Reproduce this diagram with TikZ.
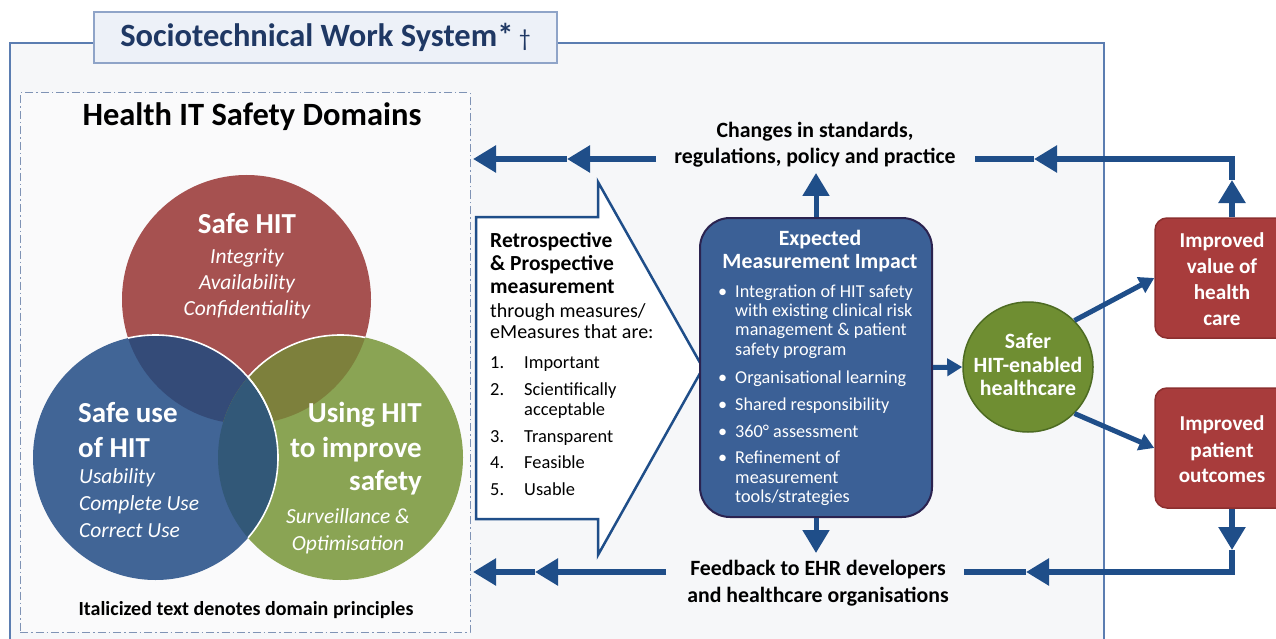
\documentclass[tikz,border=0pt]{standalone}
\usepackage{fontspec}
\setmainfont{Carlito}
\usetikzlibrary{arrows.meta,calc}
\definecolor{navy}{HTML}{1F4E89}
\definecolor{titleblue}{HTML}{1F3864}
\definecolor{framec}{HTML}{5B7DB1}
\definecolor{bgc}{HTML}{F6F7F9}
\definecolor{titlefill}{HTML}{EDF1F8}
\definecolor{titledraw}{HTML}{8FA4C8}
\definecolor{domc}{HTML}{7F93B5}
\definecolor{vred}{HTML}{A65150}
\definecolor{vblue}{HTML}{416596}
\definecolor{vgreen}{HTML}{8AA454}
\definecolor{vrb}{HTML}{344B78}
\definecolor{vrg}{HTML}{7D803C}
\definecolor{vbg}{HTML}{325878}
\definecolor{emi}{HTML}{3B6096}
\definecolor{emib}{HTML}{2B2350}
\definecolor{sgreen}{HTML}{6F8E32}
\definecolor{sgreenb}{HTML}{4D6B22}
\definecolor{ired}{HTML}{A83C3C}
\definecolor{iredb}{HTML}{8C2F2F}
\newcommand\myfs[1]{\fontsize{#1}{#1}\selectfont}
\begin{document}
\begin{tikzpicture}[x=1pt,y=-1pt,
  line/.style={draw=navy,line width=5.5pt},
  bigtip/.style={-{Triangle[length=23pt,width=26pt]}},
  smalltip/.style={-{Triangle[length=15pt,width=17pt]}},
  txt/.style={inner sep=0pt,anchor=base},
  txtw/.style={inner sep=0pt,anchor=base west},
  txte/.style={inner sep=0pt,anchor=base east},
  vhead/.style={font=\bfseries\myfs{29},text=white},
  vprin/.style={font=\itshape\myfs{21.5},text=white},
  ctext/.style={font=\bfseries\myfs{21.8},text=black},
  wtext/.style={font=\bfseries\myfs{21.8},text=white},
  rtext/.style={font=\bfseries\myfs{21.2},text=white},
  btext/.style={font=\myfs{18.2},text=white},
  ltext/.style={font=\myfs{18.4},text=black},
  redbox/.style={rectangle,rounded corners=12pt,fill=ired,draw=iredb,line width=1.5pt,minimum width=135pt,minimum height=120pt,inner sep=0pt}
]
\useasboundingbox (0,0) rectangle (1276,639);
\fill[white] (0,0) rectangle (1276,639);
% outer frame
\fill[bgc] (10,43) rectangle (1104,650);
\draw[framec,line width=1.5pt] (94,43) -- (10,43) -- (10,650);
\draw[framec,line width=1.5pt] (557,43) -- (1104,43) -- (1104,650);
\node[rectangle,fill=titlefill,draw=titledraw,line width=1.2pt,minimum width=463pt,minimum height=51pt,inner sep=0pt,
  font=\bfseries\myfs{32.5},text=titleblue] (ttl) at (325.5,37.5) {Sociotechnical Work System*\,{\mdseries\myfs{24}†}};
% domain box
\node[rectangle,draw=domc,line width=1pt,dash pattern=on 8pt off 3pt on 1.5pt off 3pt,
  fill=white!40!bgc,minimum width=450pt,minimum height=539pt,inner sep=0pt] (dom) at (245,362.5) {};
\node[txt,font=\bfseries\myfs{32.5}] (dtitle) at (252,126) {Health IT Safety Domains};
% venn
\fill[vred] (246.5,299.5) circle (124.5);
\fill[vgreen] (340.5,457.5) circle (122.5);
\fill[vblue] (155.5,457.5) circle (122.5);
\begin{scope}
  \clip (246.5,299.5) circle (124.5);
  \fill[vrb] (155.5,457.5) circle (122.5);
  \fill[vrg] (340.5,457.5) circle (122.5);
\end{scope}
\begin{scope}
  \clip (155.5,457.5) circle (122.5);
  \fill[vbg] (340.5,457.5) circle (122.5);
\end{scope}
\begin{scope}
  \clip (246.5,299.5) circle (124.5);
  \draw[white,line width=1.6pt] (155.5,457.5) circle (122.5);
  \begin{scope}[even odd rule]
    \clip (155.5,457.5) circle (122.5) (0,0) rectangle (600,700);
    \draw[white,line width=1.6pt] (340.5,457.5) circle (122.5);
  \end{scope}
\end{scope}
\begin{scope}
  \clip (340.5,457.5) circle (122.5);
  \draw[white,line width=1.6pt] (155.5,457.5) circle (122.5);
\end{scope}
\node[txt,vhead] (r1) at (247,233) {Safe HIT};
\node[txt,vprin] (r2) at (247,263) {Integrity};
\node[txt,vprin] (r3) at (247,289) {Availability};
\node[txt,vprin] (r4) at (247,315) {Confidentiality};
\node[txtw,vhead] (b1) at (78,422) {Safe use};
\node[txtw,vhead] (b2) at (78,457) {of HIT};
\node[txtw,vprin] (b3) at (79,483) {Usability};
\node[txtw,vprin] (b4) at (79,510) {Complete Use};
\node[txtw,vprin] (b5) at (79,537) {Correct Use};
\node[txte,vhead] (g1) at (422,422) {Using HIT};
\node[txte,vhead] (g2) at (422,457) {to improve};
\node[txte,vhead] (g3) at (422,490) {safety};
\node[txt,vprin] (g4) at (348,523) {Surveillance \&};
\node[txt,vprin] (g5) at (348,550) {Optimisation};
\node[txt,font=\bfseries\myfs{20}] (note) at (246,615) {Italicized text denotes domain principles};
% callout arrow
\coordinate (ca1) at (476,217);
\coordinate (ca2) at (598,217);
\coordinate (ca3) at (598,182);
\coordinate (catip) at (703,368);
\coordinate (ca5) at (598,555);
\coordinate (ca6) at (598,519);
\coordinate (ca7) at (476,519);
\draw[navy,line width=2.5pt,fill=white,line join=miter] (ca1) -- (ca2) -- (ca3) -- (catip) -- (ca5) -- (ca6) -- (ca7) -- cycle;
\node[txtw,font=\bfseries\myfs{21.5}] (c1) at (490,247) {Retrospective};
\node[txtw,font=\bfseries\myfs{21.5}] (c2) at (490,270) {\& Prospective};
\node[txtw,font=\bfseries\myfs{21.5}] (c3) at (490,293) {measurement};
\node[txtw,font=\myfs{20}] (c4) at (490,317) {through measures/};
\node[txtw,font=\myfs{20}] (c5) at (490,338) {eMeasures that are:};
\node[txtw,ltext] (n1) at (490,368) {1.};
\node[txtw,ltext] (l1) at (524,368) {Important};
\node[txtw,ltext] (n2) at (490,395) {2.};
\node[txtw,ltext] (l2) at (524,395) {Scientifically};
\node[txtw,ltext] (l2b) at (524,415) {acceptable};
\node[txtw,ltext] (n3) at (490,442) {3.};
\node[txtw,ltext] (l3) at (524,442) {Transparent};
\node[txtw,ltext] (n4) at (490,468) {4.};
\node[txtw,ltext] (l4) at (524,468) {Feasible};
\node[txtw,ltext] (n5) at (490,495) {5.};
\node[txtw,ltext] (l5) at (524,495) {Usable};
% expected measurement impact
\node[rectangle,rounded corners=30pt,fill=emi,draw=emib,line width=2pt,minimum width=232pt,minimum height=299pt,inner sep=0pt] (emi) at (816,367.5) {};
\node[txt,wtext] (e1) at (820,245) {Expected};
\node[txt,wtext] (e2) at (820,268) {Measurement Impact};
\node[txtw,btext] (eb1) at (718,297) {•};
\node[txtw,btext] (et1) at (735,297) {Integration of HIT safety};
\node[txtw,btext] (et1b) at (735,316) {with existing clinical risk};
\node[txtw,btext] (et1c) at (735,335) {management \& patient};
\node[txtw,btext] (et1d) at (735,355) {safety program};
\node[txtw,btext] (eb2) at (718,383) {•};
\node[txtw,btext] (et2) at (735,383) {Organisational learning};
\node[txtw,btext] (eb3) at (718,410) {•};
\node[txtw,btext] (et3) at (735,410) {Shared responsibility};
\node[txtw,btext] (eb4) at (718,437) {•};
\node[txtw,btext] (et4) at (735,437) {360° assessment};
\node[txtw,btext] (eb5) at (718,463) {•};
\node[txtw,btext] (et5) at (735,463) {Refinement of};
\node[txtw,btext] (et5b) at (735,483) {measurement};
\node[txtw,btext] (et5c) at (735,502) {tools/strategies};
% top / bottom texts
\node[txt,ctext] (chg1) at (815,138) {Changes in standards,};
\node[txt,ctext] (chg2) at (815,164) {regulations, policy and practice};
\node[txt,ctext] (fb1) at (818,575) {Feedback to EHR developers};
\node[txt,ctext] (fb2) at (818,602) {and healthcare organisations};
% safer circle
\node[circle,fill=sgreen,draw=sgreenb,line width=1.5pt,minimum size=130pt,inner sep=0pt] (sh) at (1028,367) {};
\node[txt,wtext] (s1) at (1028,348) {Safer};
\node[txt,wtext] (s2) at (1028,372) {HIT-enabled};
\node[txt,wtext] (s3) at (1028,395) {healthcare};
% red boxes
\node[redbox] (rv) at (1222.5,278) {};
\node[txt,rtext] (rv1) at (1222,247) {Improved};
\node[txt,rtext] (rv2) at (1222,273) {value of};
\node[txt,rtext] (rv3) at (1222,299) {health};
\node[txt,rtext] (rv4) at (1222,325) {care};
\node[redbox] (rp) at (1222.5,448) {};
\node[txt,rtext] (rp1) at (1222,430) {Improved};
\node[txt,rtext] (rp2) at (1222,457) {patient};
\node[txt,rtext] (rp3) at (1222,482) {outcomes};
% connectors: top
\coordinate (tlA) at (656,159);
\coordinate (tlB) at (567,159);
\coordinate (tlC) at (473,159);
\draw[line,bigtip] (tlA) -- (tlB);
\draw[line,bigtip] (tlB) -- (tlC);
\coordinate (trV) at ($(rv.north)+(9.5,0)$);
\coordinate (trT) at (1232,180);
\coordinate (trC) at (1232,159);
\coordinate (trL) at (1034,159);
\coordinate (trE) at (975,159);
\draw[line,bigtip] (trV) -- (trT);
\draw[line,bigtip,line join=miter] (trT) -- (trC) -- (trL);
\draw[line] (trL) -- (trE);
% connectors: bottom
\coordinate (blA) at (666,572);
\coordinate (blB) at (535,572);
\coordinate (blC) at (473,572);
\draw[line,bigtip] (blA) -- (blB);
\draw[line,bigtip] (blB) -- (blC);
\coordinate (brV) at ($(rp.south)+(9.5,0)$);
\coordinate (brT) at (1232,550);
\coordinate (brC) at (1232,572);
\coordinate (brL) at (1026,572);
\coordinate (brE) at (964,572);
\draw[line,bigtip] (brV) -- (brT);
\draw[line,bigtip,line join=miter] (brT) -- (brC) -- (brL);
\draw[line] (brL) -- (brE);
% connectors: emi
\coordinate (emiUp) at (816,173);
\coordinate (emiDn) at (816,553);
\draw[line,line width=5pt,bigtip] (emi.north) -- (emiUp);
\draw[line,line width=5pt,bigtip] (emi.south) -- (emiDn);
\draw[line,line width=5pt,smalltip] (emi.east) -- (sh.west);
\draw[line,line width=5pt,smalltip] (sh.45) -- (rv.west);
\draw[line,line width=5pt,smalltip] (sh.-45) -- (rp.west);
\end{tikzpicture}
\end{document}
